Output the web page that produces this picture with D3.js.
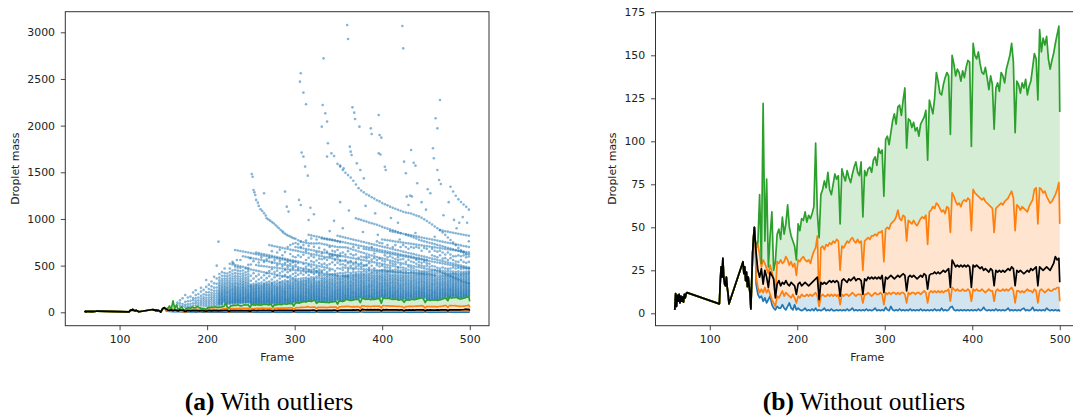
<!DOCTYPE html>
<html>
<head>
<meta charset="utf-8">
<script src="https://cdn.jsdelivr.net/npm/d3@7"></script>
<style>
  body { margin: 0; background: #fff; }
  svg { display: block; }
</style>
</head>
<body>
<svg id="fig" width="1073" height="417"></svg>
<script>
// ---- tick labels ----
const frameTicks = [100, 200, 300, 400, 500];
const leftMassTicks = [0, 500, 1000, 1500, 2000, 2500, 3000];
const rightMassTicks = [0, 25, 50, 75, 100, 125, 150, 175];

// ---- single-droplet frames before the statistics split (all statistics equal) ----
const earlyFrames = [60,61,62,63,64,65,66,67,68,69,70,71,72,73,74,
  111,112,113,114,115,116,117,118,119,120,121,122,
  138,139,140,141,142,143,144,145,146,147,148,149,150,151,152];
const earlyMass = [2,11.5,4,10.5,7,11,6,10,7,9.5,6.5,11,9,11.5,12,
  5.5,18,27,21,32,21,17,16,21,15,11,5.5,
  30,23,27,19,24,15.5,21,16,11.5,2.5,19,35,44,50,42];

// ---- per-frame statistics ----
const frames = [153,155,157,159,161,163,165,167,169,171,
  173,175,177,179,181,183,185,187,189,191,
  193,195,197,199,201,203,205,207,209,211,
  213,215,217,219,221,223,225,227,229,231,
  233,235,237,239,241,243,245,247,249,251,
  253,255,257,259,261,263,265,267,269,271,
  273,275,277,279,281,283,285,287,289,291,
  293,295,297,299,301,303,305,307,309,311,
  313,315,317,319,321,323,325,327,329,331,
  333,335,337,339,341,343,345,347,349,351,
  353,355,357,359,361,363,365,367,369,371,
  373,375,377,379,381,383,385,387,389,391,
  393,395,397,399,401,403,405,407,409,411,
  413,415,417,419,421,423,425,427,429,431,
  433,435,437,439,441,443,445,447,449,451,
  453,455,457,459,461,463,465,467,469,471,
  473,475,477,479,481,483,485,487,489,491,
  493,495,497,499,500];

const lowerMass = [17,11,9,10,7,9,6,8,10,5,
  3,2,4,3,3,5,3,2,4,6,
  3,2,5,2,3,2,1.5,2,3,1.5,
  2,1.5,2.5,1.5,3,1.5,2,1.5,2,3,
  1.5,2,1.5,2.5,1.5,1.5,2,1.5,2,1.5,
  2,1.5,2.5,1.5,2,3,1.5,2,1.5,2,
  1.5,2,1.5,2.5,1.5,2,1.5,2,3,1.5,
  2,1.5,2,1.5,3.5,2,1.5,4,2,1.5,
  2,1.5,2.5,1.5,2,1.5,2,1.5,2.5,1.5,
  2,1.5,2,1.5,2.5,1.5,2,1.5,2,1.5,
  2,1.5,2.5,1.5,2,1.5,3,1.5,2,1.5,
  2,3.5,4,2,1.5,2,1.5,2,1.5,2,
  1.5,2,1.5,2,1.5,2,1.5,2.5,1.5,2,
  3.5,2,1.5,2,1.5,2,1.5,2.5,1.5,2,
  1.5,2,1.5,2,3,1.5,2,1.5,2,1.5,
  2,1.5,2.5,3,1.5,2,1.5,2,3.5,1.5,
  2,1.5,2,1.5,2,1.5,3,2,1.5,2,
  1.5,2,1.5,2,1];

const q1Mass = [21,15,12,14,12,15,12,14,11,8,
  6,4,10,9,11,13,10,12,11,10,
  9,11,9,6,10,9,11,10,10,11,
  10,11,10,11,12,10,4,10,11,10,
  10,11,10,11,10,11,10,11,5,11,
  10,11,11,10,11,12,11,10,11,11,
  11,6,11,11,12,11,10,11,12,11,
  11,12,11,5,12,11,12,11,12,12,
  11,12,11,12,12,11,6,12,11,12,
  12,11,12,12,11,12,13,12,6,12,
  13,12,13,12,13,12,13,12,13,13,
  14,7,15,14,13,14,13,13,14,13,
  13,14,13,7,14,13,14,13,13,14,
  13,12,13,14,13,13,7,13,14,13,
  13,14,13,14,13,14,15,13,6,13,
  13,12,13,12,13,14,13,13,12,14,
  13,6,13,14,13,12,13,14,13,13,
  14,14,15,15,7];

const meanMass = [35,25,21,26,17,25,21,15,24,22,
  20,9,17,19,16,18,17,19,17,16,
  18,17,16,11,17,18,16,17,18,17,
  16,17,18,19,20,21,8,18,17,18,
  17,18,19,18,19,18,19,18,10,19,
  20,19,18,20,19,20,21,19,20,20,
  19,11,20,19,21,20,21,20,21,20,
  21,20,22,12,21,20,21,22,21,20,
  21,22,21,22,23,22,13,21,22,21,
  22,21,20,21,22,21,23,22,14,22,
  23,23,24,23,24,23,24,25,24,25,
  26,15,31,29,27,28,27,28,27,28,
  27,28,27,15,28,27,28,27,26,27,
  25,26,25,24,26,25,16,25,24,25,
  24,25,24,25,26,25,27,26,16,25,
  24,25,24,23,24,25,24,26,25,26,
  27,16,27,26,25,26,27,26,25,27,
  29,33,31,32,18];

const q3Mass = [38,40,34,27,31,29,26,23,28,24,
  20,10,30,29,31,29,30,33,31,28,
  30,27,29,22,31,30,32,33,31,30,
  31,29,33,36,38,45,5,38,39,37,
  40,39,41,40,42,41,43,42,25,39,
  38,40,42,41,43,44,42,41,43,41,
  42,25,42,43,44,43,45,45,46,45,
  47,47,48,30,49,50,49,52,53,54,
  56,60,55,54,57,56,42,54,53,52,
  54,52,51,53,55,56,55,57,40,59,
  60,62,61,64,63,61,59,60,58,62,
  61,47,70,68,65,63,64,62,65,66,
  65,67,66,48,72,70,69,68,67,66,
  67,65,64,63,62,61,47,61,62,63,
  64,63,65,66,67,69,71,67,48,63,
  62,60,62,61,60,59,62,64,66,72,
  73,52,73,72,70,71,68,66,64,65,
  67,69,72,76,52];

const upperMass = [40,41,69,29,122,42,78,27,45,59,
  25,30,46,49,43,56,46,52,63,50,
  45,42,39,31,52,48,55,54,59,53,
  57,55,58,62,99,58,44,69,72,77,
  73,82,72,69,75,81,78,80,52,84,
  80,77,83,79,76,81,85,88,82,80,
  88,56,83,80,84,85,82,89,91,86,
  96,93,95,68,101,103,98,105,112,116,
  110,120,121,115,124,131,96,113,112,108,
  111,106,108,103,110,112,114,118,89,124,
  120,116,125,140,135,128,127,133,137,140,
  138,104,150,145,138,142,140,135,141,137,
  143,147,146,97,157,150,148,152,145,140,
  139,143,137,130,138,133,107,131,134,129,
  140,138,134,142,146,150,157,146,105,135,
  133,128,134,131,136,127,132,135,143,151,
  148,124,165,152,160,156,161,148,142,147,
  151,157,162,167,117];

// ---- outlier droplet masses, sampled every third frame ----
const sprayFrames = [166,169,172,175,178,181,184,187,190,193,196,199,202,205,208,211,214,217,220,223,226,229,232,235,238,241,244,247,
  250,253,256,259,262,265,268,271,274,277,280,283,286,289,292,295,298,
  301,304,307,310,313,316,319,322,325,328,331,334,337,340,343,346,349,
  352,355,358,361,364,367,370,373,376,379,382,385,388,391,394,397,400,
  403,406,409,412,415,418,421,424,427,430,433,436,439,442,445,448,451,
  454,457,460,463,466,469,472,475,478,481,484,487,490,493,496,499];

const sprayMass = [
  [82,104],
  [70,96,128],
  [64,88,150],
  [58,80,112,186],
  [62,86,118,158],
  [66,92,124,168],
  [70,96,130,152,212],
  [72,98,122,150,184,236],
  [78,102,128,158,196],
  [74,98,122,148,176,222,262],
  [70,92,114,138,162,192,240],
  [66,88,110,132,156,184,214,272,346],
  [68,90,112,134,158,184,214,250,296],
  [72,94,116,138,160,184,210,240,278,330],
  [74,94,114,134,156,178,202,230,264,310,380],
  [76,96,116,136,158,180,204,232,266,306,362,500],
  [78,90,98,108,118,128,138,148,158,169,180,192,204,217,230,245,260,278,296,318,342,372,410],
  [80,90,100,110,120,130,140,151,162,173,185,197,210,224,238,254,270,290,310,334,360,392,430],
  [104,113,122,131,140,150,160,170,180,191,202,214,226,239,252,267,282,300,318,340,362,390,420,470],
  [86,95,104,114,124,134,144,155,166,178,190,203,216,230,244,260,276,295,314,336,360,386,416],
  [90,99,108,117,126,136,146,156,166,177,188,200,212,225,238,253,268,285,302,322,344,368,396,430,470,520],
  [92,101,110,119,128,137,147,157,167,177,188,199,210,222,235,248,262,278,294,312,334,358,384,412,448,513,540],
  [96,104,112,121,130,139,148,157,167,177,187,197,208,219,231,243,256,270,285,302,320,341,365,390,420,455,490,507,668],
  [98,106,114,122,131,140,149,158,168,178,188,198,209,220,232,244,257,271,286,303,320,340,362,386,414,446,480,500,662],
  [96,104,112,120,129,138,147,156,166,176,186,196,207,218,230,242,255,268,284,300,318,338,360,384,412,442,476,493,560,657],
  [100,108,116,124,133,142,151,160,170,180,190,200,211,222,234,246,259,272,288,304,322,342,364,390,416,448,487,600,651],
  [100,108,116,124,133,142,151,160,170,180,190,201,212,224,236,249,262,276,292,310,328,350,372,400,428,470,480,594,646],
  [102,110,118,126,135,144,153,163,173,183,193,204,215,227,239,252,265,280,296,314,334,356,380,408,438,464,473,510,589,640],
  [92,99,107,114,122,129,137,145,153,161,170,179,188,197,207,217,228,239,250,262,274,283,296,338,392,458,512,583,634],
  [88,96,103,111,118,126,134,142,150,159,168,177,186,196,206,216,227,238,249,261,273,286,305,361,418,452,548,577,629],
  [91,98,106,113,121,128,136,144,152,161,170,179,188,198,208,218,229,240,252,264,276,289,300,329,385,447,506,572,623,640],
  [87,95,102,110,117,125,133,141,149,158,167,176,186,196,206,217,228,240,252,264,277,292,312,352,404,441,500,533,566,618,634],
  [89,96,104,111,119,127,135,143,152,161,170,179,189,199,209,220,231,243,255,268,281,295,318,371,435,497,560,588,612,628],
  [93,101,108,116,124,132,140,148,157,166,175,184,194,204,214,225,236,248,260,272,285,299,309,344,397,429,493,540,555,606,622],
  [97,104,112,119,127,135,143,151,160,169,178,187,197,207,217,228,239,251,263,276,289,302,322,366,418,423,490,549,567,601,616],
  [90,98,106,114,122,130,138,147,156,165,174,184,194,204,215,226,237,249,261,274,288,305,330,386,418,441,486,543,582,595,610,720],
  [96,103,111,119,127,135,143,152,161,170,179,189,199,209,219,230,241,253,265,278,292,307,317,352,412,462,483,529,538,590,604,655,714],
  [91,99,107,115,123,131,140,149,158,167,176,186,196,206,217,228,239,251,263,276,290,309,328,375,406,431,479,532,560,584,598,708],
  [93,100,108,116,124,132,141,150,159,168,177,187,197,207,218,229,240,252,264,277,294,311,338,392,400,446,476,505,526,578,591,640,702],
  [93,101,109,117,125,134,142,151,160,169,179,189,199,210,221,232,244,256,268,281,296,314,325,362,394,421,472,521,551,573,585,669,696],
  [94,101,109,117,126,134,143,152,161,170,180,190,200,211,222,233,245,257,270,284,299,317,333,381,389,437,469,496,515,567,579,612,690],
  [99,107,115,123,131,139,148,157,166,175,185,195,205,215,226,237,249,261,274,288,303,320,342,383,398,452,465,509,528,562,573,645,684],
  [98,106,114,122,130,139,148,157,166,176,186,196,206,217,228,240,252,264,277,291,306,323,336,374,377,430,462,486,504,541,556,567,678,700],
  [101,109,117,125,133,142,151,160,169,179,189,199,209,220,231,243,255,267,280,294,309,326,345,371,392,444,458,498,519,550,561,625,672,720],
  [104,111,119,127,136,144,153,162,171,181,191,201,212,223,234,246,258,271,284,298,313,329,352,366,411,455,472,492,535,545,555,598,666,735],
  [109,117,125,133,141,150,159,168,177,187,197,207,217,228,239,251,263,276,289,303,317,332,344,360,387,422,451,487,508,540,549,590,661,700,742,787],
  [111,118,126,134,143,151,160,169,179,189,199,209,220,231,242,254,266,279,292,306,320,336,356,401,448,462,481,528,543,610,655,694,730,772],
  [114,121,129,137,146,154,163,172,182,192,202,212,223,234,246,258,270,283,296,310,324,339,361,418,444,475,537,592,649,689,700,756,760],
  [120,128,136,144,152,161,170,179,188,198,208,218,229,240,251,263,275,288,301,315,329,343,365,402,441,455,470,517,531,616,643,683,720,750],
  [118,126,134,142,151,160,169,178,188,198,208,218,229,240,252,264,276,289,302,316,331,347,370,425,437,464,488,525,560,637,660,678,744,768],
  [128,135,143,151,159,168,177,186,195,205,215,225,236,247,258,270,282,295,308,322,336,350,362,398,434,446,458,503,519,585,631,672,712,740,830],
  [124,131,139,147,156,164,173,182,192,202,212,222,233,244,256,268,280,293,306,320,335,354,376,430,433,453,487,512,548,605,625,667,738,790,824],
  [136,143,151,159,167,176,185,194,203,213,223,233,244,255,266,278,290,302,315,329,343,357,371,409,427,447,466,506,535,590,619,661,702,737,818],
  [121,129,137,145,154,163,172,181,191,201,211,221,232,243,255,267,279,292,305,319,334,361,382,423,438,441,478,500,555,613,640,656,738,780,812],
  [122,130,138,146,155,164,173,183,193,203,213,224,235,246,258,270,283,296,310,324,339,365,388,404,420,436,459,494,528,575,607,650,690,739,806],
  [116,124,132,141,150,159,168,178,188,198,208,219,230,241,253,265,278,291,305,319,334,350,368,392,416,430,447,488,512,568,601,630,645,735,790,800],
  [118,126,134,142,151,160,170,180,190,200,211,222,233,244,256,268,281,294,308,322,337,353,372,398,413,455,482,521,578,595,639,670,728,786,794],
  [116,124,133,141,150,159,169,179,189,199,210,221,232,244,256,268,281,294,308,323,338,355,375,394,409,430,476,503,560,589,634,650,722,781,788],
  [115,123,132,140,149,159,168,178,188,199,210,221,233,245,257,270,283,297,311,326,342,359,379,402,406,449,470,518,583,598,620,628,700,716,777,782],
  [120,128,137,145,154,163,173,183,193,203,214,225,237,249,261,274,287,300,314,329,345,362,383,402,408,461,535,577,600,616,623,660,710,773,776],
  [125,133,141,150,159,168,178,188,198,208,219,230,242,254,266,279,292,306,320,335,351,368,386,399,412,444,507,560,571,611,617,650,704,769,770],
  [132,140,148,157,166,175,184,194,204,214,225,236,247,259,271,284,297,311,325,340,356,372,390,395,415,472,532,565,590,607,612,668,700,760,764,820,1590],
  [130,138,147,155,164,173,183,193,203,213,224,235,246,258,270,283,296,310,324,339,355,372,392,420,466,512,548,559,602,606,630,698,752,758,813,1561],
  [124,132,140,149,158,167,177,187,197,208,219,230,242,254,267,280,294,308,323,339,356,374,395,388,418,452,480,515,553,601,640,697,752,806,1525],
  [141,149,157,165,174,183,192,202,212,222,233,244,255,267,279,292,305,319,334,349,365,381,397,385,425,478,503,547,560,595,618,696,746,800,1495],
  [143,151,159,168,177,186,196,206,216,227,238,249,261,273,286,299,313,327,342,358,374,390,399,381,430,455,476,525,541,590,655,690,740,793,1470],
  [137,145,153,162,171,180,190,200,210,221,232,243,255,267,280,293,307,321,336,351,367,384,402,421,473,497,535,548,584,625,680,734,786,1445],
  [141,149,158,166,175,185,195,205,215,226,237,249,261,273,286,299,313,328,343,358,374,390,404,432,459,471,512,530,579,610,670,700,728,779,1410],
  [147,155,163,172,181,190,200,210,220,231,242,253,265,277,290,303,317,331,346,361,377,393,406,426,469,490,524,540,573,620,662,722,772,1007,1370],
  [147,155,164,172,181,191,200,210,221,232,243,254,266,279,292,305,319,333,348,363,379,395,409,437,467,500,518,568,585,652,690,716,766,998,1330],
  [156,164,172,180,189,198,207,217,227,238,249,260,272,284,296,309,322,336,350,365,380,395,411,430,464,485,512,530,562,598,644,710,759,990,1305],
  [153,161,169,178,187,196,206,216,226,237,248,259,271,283,296,309,323,337,352,367,383,398,413,440,462,493,506,557,590,636,680,704,752,980,1285],
  [148,156,164,173,182,191,201,211,221,232,243,255,267,279,292,305,319,334,349,364,380,397,415,436,460,500,510,551,580,600,628,675,698,745,972,1265],
  [149,157,165,174,183,192,202,212,222,233,244,256,268,280,293,306,320,335,350,365,381,398,416,445,457,478,525,546,590,616,670,692,738,962,1250],
  [146,154,163,171,180,190,199,209,220,231,242,253,265,278,291,304,318,333,348,364,380,397,418,432,455,498,540,566,608,664,686,700,732,954,1232],
  [145,153,162,170,179,189,198,208,219,230,241,253,265,277,290,304,318,332,347,363,380,397,419,440,453,472,535,580,600,630,659,680,725,946,1218],
  [153,161,169,178,187,196,206,216,226,237,248,260,272,284,297,310,324,339,354,369,385,402,421,437,450,505,529,560,592,654,674,718,760,938,1200],
  [155,163,171,180,189,198,208,218,228,239,250,262,274,286,299,312,326,341,356,371,387,404,423,445,448,490,524,575,584,649,668,711,745,928,1188],
  [165,173,181,189,198,207,217,227,237,248,259,270,282,294,307,320,334,348,363,379,395,412,431,446,452,500,518,555,578,643,662,704,740,780,915,1170],
  [158,166,174,183,192,201,211,221,231,242,253,265,277,289,302,315,329,343,358,374,391,409,429,444,458,485,513,545,570,610,638,656,698,776,905,1158],
  [159,167,175,184,193,202,212,222,232,243,254,266,278,291,304,317,331,346,361,377,394,411,430,441,447,480,507,562,590,633,650,691,720,772,896,1146],
  [153,161,170,178,187,197,206,216,227,238,249,261,273,285,298,311,325,340,355,371,388,406,432,439,455,478,502,530,554,600,628,644,684,768,870,888,1132],
  [148,157,165,174,183,192,202,212,223,234,245,257,269,282,295,308,322,337,352,368,385,403,428,437,450,496,520,548,585,622,638,677,700,763,864,878,1120],
  [152,160,168,177,186,195,205,215,226,237,248,260,272,285,298,311,325,340,355,371,388,406,430,435,458,491,515,540,570,617,632,670,720,759,859,870,1110],
  [142,150,159,168,177,186,196,206,217,228,239,251,263,276,289,302,316,331,346,362,379,397,422,432,450,478,485,534,560,590,612,626,664,755,853,860,1098],
  [146,154,163,172,181,190,200,210,221,232,243,255,267,280,293,306,320,335,350,366,383,401,426,430,448,480,510,528,565,607,620,657,700,751,847,850,1088],
  [141,150,158,167,176,186,196,206,217,228,239,251,263,276,289,303,317,332,347,363,380,398,421,428,455,480,522,570,601,614,650,720,746,842,1078],
  [139,148,156,165,174,184,194,204,215,226,237,249,261,274,287,301,315,330,345,361,378,396,419,425,445,470,514,540,596,608,643,700,742,832,836,1070],
  [140,148,157,166,175,185,194,205,215,227,238,250,262,275,288,302,316,331,346,362,379,397,420,423,456,490,506,560,591,602,636,680,738,822,830,1064],
  [148,156,165,173,182,192,201,211,222,233,244,256,268,281,294,307,321,336,351,367,384,402,428,421,450,478,500,545,586,596,630,700,734,812,825,1058],
  [145,153,161,170,179,188,198,208,218,229,240,252,264,277,290,303,317,332,347,363,380,398,423,418,442,470,494,535,580,590,623,690,730,802,819,1048],
  [150,158,166,175,184,193,203,213,223,234,245,257,269,282,295,308,322,337,352,368,385,403,426,416,452,488,520,560,575,584,616,700,725,790,813,1036],
  [156,164,172,180,189,198,208,217,228,238,249,261,273,285,298,311,325,339,354,370,387,404,425,414,445,482,505,540,570,578,609,690,721,778,808,1028],
  [165,173,181,189,198,207,216,226,236,247,258,269,281,293,306,319,333,347,362,377,393,409,424,412,440,476,500,530,565,572,602,660,717,768,802,1012],
  [155,163,171,180,189,198,207,217,227,238,249,260,272,284,297,310,324,338,353,369,385,402,422,409,438,470,492,540,559,566,596,690,713,760,796,996],
  [143,151,160,168,177,187,196,206,217,228,239,251,263,275,288,302,316,330,345,361,378,396,420,407,437,466,500,525,554,560,589,680,709,752,791,978],
  [139,147,156,164,173,183,192,202,213,224,235,247,259,272,285,299,313,328,343,359,376,394,419,405,440,462,488,520,549,582,650,704,744,785,960],
  [143,151,159,168,177,186,196,206,216,227,238,250,262,275,288,301,315,330,345,361,378,396,421,402,442,458,495,544,575,612,680,700,738,779,940],
  [142,150,158,167,176,185,195,205,215,226,237,249,261,274,287,300,314,329,344,360,377,395,422,400,447,456,490,538,568,600,660,696,730,774,920],
  [135,143,152,161,170,179,189,199,210,221,232,244,256,269,282,296,310,325,340,356,373,391,415,438,450,478,533,562,590,650,692,722,768,900],
  [142,150,159,167,176,186,195,205,216,227,238,250,262,275,288,301,315,330,345,361,378,396,423,436,446,470,528,555,610,660,688,716,762,880,882],
  [151,159,167,176,185,194,204,214,224,235,246,258,270,283,296,309,323,338,353,369,386,403,421,424,445,480,523,548,575,640,683,708,757,856,875],
  [159,167,175,183,192,201,210,220,230,241,252,263,275,287,300,313,327,341,356,371,387,403,419,412,440,470,517,541,580,620,679,700,751,830,869],
  [151,159,167,176,185,194,204,214,224,235,246,258,270,283,296,309,323,338,353,369,386,403,419,398,442,465,512,534,560,640,675,692,745,802,864],
  [166,174,182,190,199,208,217,227,237,247,258,269,281,293,305,318,332,346,360,375,390,405,416,386,438,470,507,528,580,620,671,684,740,775,858,1345],
  [168,176,184,192,201,210,219,229,239,249,260,271,283,295,307,320,334,348,362,377,392,407,418,374,436,480,502,521,560,600,667,676,734,748,853,1295],
  [167,175,183,191,200,209,218,228,238,248,259,270,282,294,306,319,333,347,361,376,391,406,415,362,434,470,496,514,545,600,662,668,728,720,847,1248],
  [156,164,172,181,190,199,208,218,228,239,250,261,273,285,298,311,325,339,354,369,385,402,416,350,438,475,491,507,540,610,658,660,723,690,842,1210],
  [153,161,170,178,187,196,206,216,226,237,248,260,272,284,297,310,324,339,354,370,386,403,413,338,432,465,486,500,560,600,654,650,717,664,836,1182],
  [160,168,176,184,193,202,211,221,231,242,253,264,276,288,301,314,328,342,357,372,388,404,417,328,434,470,481,494,540,610,650,645,711,640,831,1155],
  [168,176,184,192,201,210,219,229,239,249,260,271,283,295,307,320,334,348,362,377,392,407,418,318,436,470,475,487,530,590,646,630,706,618,825,1130],
  [175,183,191,199,208,217,226,236,246,256,267,278,290,302,314,327,341,355,369,384,399,414,425,311,440,470,470,480,540,760,642,622,700,598,820,1100]
];

// ---- isolated high-mass outliers: [frame, mass] ----
const outlierPoints = [
  [213,757],[230,525],[234,561],[249,579],
  [251,1482],[252,1453],[253,1311],[254,1285],[255,1257],[256,1204],[258,1175],[259,1140],[261,1104],
  [263,1086],[265,1061],[267,1036],[268,1007],[270,995],[272,982],[274,968],[276,954],[278,936],
  [280,918],[282,900],[284,882],[286,868],[287,854],[289,842],[291,829],[293,820],[295,811],[297,802],[299,793],
  [265,1275],[289,1293],[291,1132],[293,1079],[305,1204],[307,1150],[316,989],
  [307,2561],[306,2471],[310,2354],[313,2229],[308,1711],[310,1668],[312,1561],[315,1464],
  [333,2721],[332,2221],[335,2132],[337,2043],[331,1989],[337,1668],[338,1811],[342,1703],[345,1675],
  [360,3078],[361,2928],[423,3068],[424,2828],
  [366,2196],[368,2139],[369,2071],[374,1989],[387,1971],[388,1911],[396,2114],[397,1900],[399,1871],
  [461,2079],[463,1971],[466,2275],[363,1775],[364,1721],[365,1686],[352,1571],[356,1542],
  [371,1596],[375,1525],[379,1435],[403,1560],[404,1525],[425,1614],[427,1489],
  [433,1739],[436,1603],[438,1571],[458,1757],[459,1650],[463,1525],[465,1418],[467,1374],
  [432,1250],[434,1240],[452,1318],[455,1275],[440,1382],[428,1239],[396,1704],[398,1690],
  [318,1120],[322,1050],[345,980],[352,1180],[362,1090],[381,1140],[392,1060],[410,1010],[418,960],
  [430,1150],[445,1180],[450,1100],[470,1040],[476,1180],[482,990],[488,960],[492,1020],[497,960],
  [340,870],[355,900],[378,860],[395,830],[420,780],[438,850],[460,810],[485,900]
];

// ---- layout ----
const svg = d3.select("#fig");
const PLOT_TOP = 11.7, PLOT_BOTTOM = 325.7;
const FONT = "'DejaVu Sans', sans-serif";
const COLORS = { blue: "#1f77b4", orange: "#ff7f0e", green: "#2ca02c", black: "#000000" };

const allFrames = earlyFrames.concat(frames);
const withEarly = arr => earlyMass.concat(arr);
const series = {
  lower: withEarly(lowerMass),
  q1: withEarly(q1Mass),
  mean: withEarly(meanMass),
  q3: withEarly(q3Mass),
  upper: withEarly(upperMass)
};

function drawPanel(cfg) {
  const x = d3.scaleLinear().domain([38, 522]).range([cfg.x0, cfg.x1]);
  const y = d3.scaleLinear().domain(cfg.yDomain).range([PLOT_BOTTOM, PLOT_TOP]);

  svg.append("clipPath").attr("id", cfg.id + "-clip")
    .append("rect")
    .attr("x", cfg.x0).attr("y", PLOT_TOP)
    .attr("width", cfg.x1 - cfg.x0).attr("height", PLOT_BOTTOM - PLOT_TOP);

  const plot = svg.append("g").attr("clip-path", `url(#${cfg.id}-clip)`);

  if (cfg.showOutliers) {
    const pts = [];
    sprayFrames.forEach((f, i) => sprayMass[i].forEach(m => pts.push([f, m])));
    outlierPoints.forEach(p => pts.push(p));
    plot.append("g").selectAll("circle").data(pts).join("circle")
      .attr("cx", d => x(d[0]))
      .attr("cy", d => y(d[1]))
      .attr("r", 1.3)
      .attr("fill", COLORS.blue)
      .attr("fill-opacity", 0.55);
  }

  const idx = d3.range(allFrames.length);
  const band = (lo, hi) => d3.area()
    .x(i => x(allFrames[i]))
    .y0(i => y(lo[i]))
    .y1(i => y(hi[i]));

  [[series.lower, series.q1, COLORS.blue],
   [series.q1, series.q3, COLORS.orange],
   [series.q3, series.upper, COLORS.green]].forEach(([lo, hi, c]) => {
    plot.append("path").datum(idx).attr("d", band(lo, hi))
      .attr("fill", c).attr("fill-opacity", 0.2).attr("stroke", "none");
  });

  const line = vals => d3.line().x(i => x(allFrames[i])).y(i => y(vals[i]));
  [[series.lower, COLORS.blue], [series.q1, COLORS.orange], [series.q3, COLORS.orange],
   [series.upper, COLORS.green], [series.mean, COLORS.black]].forEach(([vals, c]) => {
    plot.append("path").datum(idx).attr("d", line(vals))
      .attr("fill", "none").attr("stroke", c)
      .attr("stroke-width", 1.7).attr("stroke-linejoin", "round");
  });

  // axes frame
  svg.append("rect")
    .attr("x", cfg.x0).attr("y", PLOT_TOP)
    .attr("width", cfg.x1 - cfg.x0).attr("height", PLOT_BOTTOM - PLOT_TOP)
    .attr("fill", "none").attr("stroke", "#333").attr("stroke-width", 1);

  const styleAxis = g => {
    g.select(".domain").remove();
    g.selectAll(".tick line").attr("stroke", "#333").attr("stroke-width", 0.9);
    g.selectAll(".tick text").attr("fill", "#222")
      .style("font-family", FONT).style("font-size", "10.9px");
  };

  svg.append("g").attr("transform", `translate(0,${PLOT_BOTTOM})`)
    .call(d3.axisBottom(x).tickValues(frameTicks).tickFormat(d3.format("d"))
      .tickSize(4.5).tickPadding(5.3))
    .call(styleAxis);

  svg.append("g").attr("transform", `translate(${cfg.x0},0)`)
    .call(d3.axisLeft(y).tickValues(cfg.yTicks).tickFormat(d3.format("d"))
      .tickSize(4.5).tickPadding(5.8))
    .call(styleAxis);

  svg.append("text")
    .attr("x", (cfg.x0 + cfg.x1) / 2).attr("y", 361)
    .attr("text-anchor", "middle").attr("fill", "#222")
    .style("font-family", FONT).style("font-size", "10.9px")
    .text("Frame");

  svg.append("text")
    .attr("transform", `translate(${cfg.ylabelX},${(PLOT_TOP + PLOT_BOTTOM) / 2}) rotate(-90)`)
    .attr("text-anchor", "middle").attr("dominant-baseline", "central").attr("fill", "#222")
    .style("font-family", FONT).style("font-size", "10.9px")
    .text("Droplet mass");

  const cap = svg.append("text")
    .attr("x", cfg.captionX).attr("y", 410)
    .attr("text-anchor", "middle").attr("fill", "#000")
    .style("font-family", "'Liberation Serif', 'Times New Roman', serif")
    .style("font-size", "25.5px");
  cap.append("tspan").attr("font-weight", "bold").text(cfg.captionTag);
  cap.append("tspan").text(" " + cfg.caption);
}

drawPanel({
  id: "with", x0: 65.3, x1: 489, yDomain: [-143.6, 3220.7], yTicks: leftMassTicks,
  showOutliers: true, ylabelX: 15, captionX: 269, captionTag: "(a)", caption: "With outliers"
});

drawPanel({
  id: "without", x0: 655.5, x1: 1079, yDomain: [-7.21, 175.35], yTicks: rightMassTicks,
  showOutliers: false, ylabelX: 612, captionX: 864, captionTag: "(b)", caption: "Without outliers"
});
</script>
</body>
</html>
